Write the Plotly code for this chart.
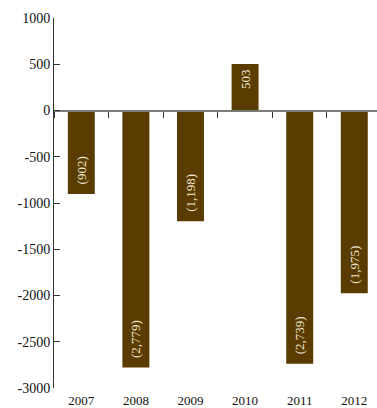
import plotly.graph_objects as go

years = ["2007", "2008", "2009", "2010", "2011", "2012"]
values = [-902, -2779, -1198, 503, -2739, -1975]
labels = ["(902)", "(2,779)", "(1,198)", "503", "(2,739)", "(1,975)"]
y_ticks = [1000, 500, 0, -500, -1000, -1500, -2000, -2500, -3000]
y_tick_text = [str(v) for v in y_ticks]  # plain hyphen minus, as in the reference

BAR = "#5a3c00"
FONT = "Liberation Serif"

# a little extra room between each label and the end of its bar
bar_text = [("\u2002" + t) if v < 0 else (t + "\u2009") for t, v in zip(labels, values)]

fig = go.Figure()
fig.add_trace(go.Bar(
    x=years, y=values, text=bar_text,
    marker=dict(color=BAR, line=dict(width=0)),
    textposition="inside", insidetextanchor="end", textangle=-90,
    textfont=dict(color="#efe6d3", size=13, family=FONT),
    hoverinfo="skip", cliponaxis=False,
))
# invisible helper trace so the zero-line axis gets category boundary ticks
fig.add_trace(go.Scatter(
    x=years, y=values, xaxis="x2", mode="markers",
    marker=dict(opacity=0), hoverinfo="skip", showlegend=False,
))

xr = [-0.5, 5.416]
fig.update_layout(
    width=377, height=408,
    margin=dict(l=54, r=0, t=18, b=20),
    paper_bgcolor="white", plot_bgcolor="white",
    showlegend=False, bargap=0.506,
    font=dict(family=FONT, size=14, color="#111"),
    xaxis=dict(
        type="category", range=xr, showline=False, showgrid=False,
        zeroline=False, ticks="", ticklabelstandoff=3, automargin=False,
        tickfont=dict(size=13, color="#111"),
    ),
    xaxis2=dict(
        type="category", range=xr, overlaying="x", anchor="free",
        position=0.75, side="bottom", showline=True, linecolor="#7a7a7a",
        linewidth=2, ticks="outside", tickson="boundaries", ticklen=6,
        tickwidth=1, tickcolor="#333", showticklabels=False,
        showgrid=False, zeroline=False, automargin=False,
    ),
    yaxis=dict(
        range=[-3000, 1000], tickvals=y_ticks, ticktext=y_tick_text,
        showline=True, automargin=False,
        linecolor="#333", linewidth=1, ticks="inside", ticklen=6,
        tickcolor="#333", showgrid=False, zeroline=False,
        tickfont=dict(size=14, color="#111"),
    ),
)

fig.write_html("out.html")
